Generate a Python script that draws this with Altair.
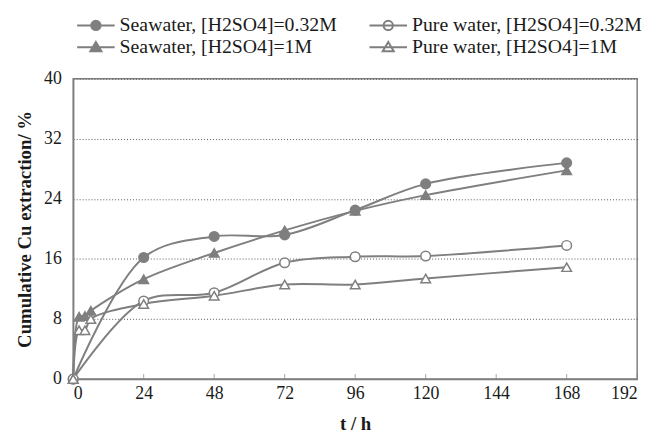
import altair as alt
import pandas as pd

GRAY = "#7f7f7f"
TEXT = "#1a1a1a"
FONT = "Liberation Serif"

series_names = [
    "Seawater, [H2SO4]=0.32M",
    "Pure water, [H2SO4]=0.32M",
    "Seawater, [H2SO4]=1M",
    "Pure water, [H2SO4]=1M",
]
series_shapes = ["circle", "circle", "triangle-up", "triangle-up"]
series_fills = [GRAY, "white", GRAY, "white"]

t_sw032 = [0, 24, 48, 72, 96, 120, 168]
y_sw032 = [0, 16.2, 19.0, 19.2, 22.5, 26.0, 28.8]

t_pw032 = [0, 24, 48, 72, 96, 120, 168]
y_pw032 = [0, 10.4, 11.5, 15.5, 16.3, 16.4, 17.8]

t_sw1 = [0, 2, 4, 6, 24, 48, 72, 96, 120, 168]
y_sw1 = [0, 8.3, 8.4, 9.1, 13.3, 16.8, 19.8, 22.4, 24.5, 27.8]

t_pw1 = [0, 2, 4, 6, 24, 48, 72, 96, 120, 168]
y_pw1 = [0, 6.5, 6.5, 8.0, 10.0, 11.1, 12.6, 12.6, 13.4, 14.9]

x_ticks = [0, 24, 48, 72, 96, 120, 144, 168, 192]
y_ticks = [0, 8, 16, 24, 32, 40]

rows = []
for name, ts, vs in zip(series_names, [t_sw032, t_pw032, t_sw1, t_pw1], [y_sw032, y_pw032, y_sw1, y_pw1]):
    for t, v in zip(ts, vs):
        rows.append({"t": t, "v": v, "series": name})
df = pd.DataFrame(rows)
ticks_df = pd.DataFrame({"t": x_ticks[1:]})

x_enc = alt.X(
    "t:Q",
    scale=alt.Scale(domain=[0, 192], nice=False, zero=False),
    axis=alt.Axis(values=x_ticks, title="t / h", grid=False, ticks=False,
                  labelPadding=6, titlePadding=12,
                  labelFont=FONT, titleFont=FONT),
)
y_enc = alt.Y(
    "v:Q",
    scale=alt.Scale(domain=[0, 40], nice=False),
    axis=alt.Axis(values=y_ticks, title="Cumulative Cu extraction/ %", grid=True,
                  ticks=False, labelPadding=12, titlePadding=9,
                  labelFont=FONT, titleFont=FONT),
)

lines = alt.Chart(df).mark_line(
    interpolate="catmull-rom", color=GRAY, strokeWidth=2
).encode(x=x_enc, y=y_enc, detail="series:N")

point_layers = []
for name, shp, fl in zip(series_names, series_shapes, series_fills):
    point_layers.append(
        alt.Chart(df).transform_filter(alt.datum.series == name).mark_point(
            filled=True, shape=shp, size=95, fill=fl, stroke=GRAY,
            strokeWidth=1.5, opacity=1
        ).encode(x=x_enc, y=y_enc)
    )

# legend: custom symbol paths (line + marker) drawn by a legend-only layer
circle_p = "M-0.47,0A0.47,0.47,0,1,0,0.47,0A0.47,0.47,0,1,0,-0.47,0Z"
tri_p = "M0,-0.52L0.56,0.42L-0.56,0.42Z"
line_full = "M-1.9,0H1.9"
legend_paths = {
    "circle": line_full + circle_p,
    "triangle-up": line_full + tri_p,
}
# column-major legend layout: order so rows read Seawater | Pure water
legend_order = [series_names[0], series_names[2], series_names[1], series_names[3]]
legend_shape_range = [legend_paths[series_shapes[series_names.index(n)]] for n in legend_order]
legend_fill_range = [
    GRAY if series_fills[series_names.index(n)] == GRAY else "transparent" for n in legend_order
]

leg = alt.Legend(
    title=None, orient="none", legendX=12, legendY=-65, columns=2, padding=0,
    columnPadding=29, rowPadding=1, labelFont=FONT, labelFontSize=20,
    labelColor=TEXT, symbolSize=400, labelOffset=13, symbolStrokeWidth=2,
    symbolOpacity=1, labelLimit=400,
)

legend_layer = alt.Chart(df).transform_filter("datum.v < -100").mark_point(
    filled=False, size=400, strokeWidth=2, opacity=1
).encode(
    x=x_enc,
    y=y_enc,
    shape=alt.Shape("series:N", scale=alt.Scale(domain=legend_order, range=legend_shape_range), legend=leg),
    fill=alt.Fill("series:N", scale=alt.Scale(domain=legend_order, range=legend_fill_range), legend=leg),
    color=alt.Color("series:N", scale=alt.Scale(domain=legend_order, range=[GRAY] * 4), legend=leg),
)

inner_ticks = alt.Chart(ticks_df).mark_tick(
    orient="vertical", size=5, thickness=1, color=GRAY, yOffset=-2.5
).encode(x=x_enc, y=alt.datum(0))

chart = alt.layer(lines, *point_layers, inner_ticks, legend_layer).properties(
    width=571,
    height=304,
    autosize=alt.AutoSizeParams(type="none"),
    padding={"left": 66, "top": 69, "right": 13, "bottom": 57},
).configure(
    font=FONT
).configure_view(
    stroke=GRAY, strokeWidth=1.5
).configure_axis(
    labelFont=FONT, labelFontSize=18, labelColor=TEXT,
    titleFont=FONT, titleFontSize=19, titleFontWeight="bold", titleColor=TEXT,
    domainColor=GRAY, domainWidth=1.5,
    gridColor="#555555", gridDash=[1, 2], gridWidth=1,
)

chart.save("out.html", embed_options={"renderer": "svg", "actions": False})
